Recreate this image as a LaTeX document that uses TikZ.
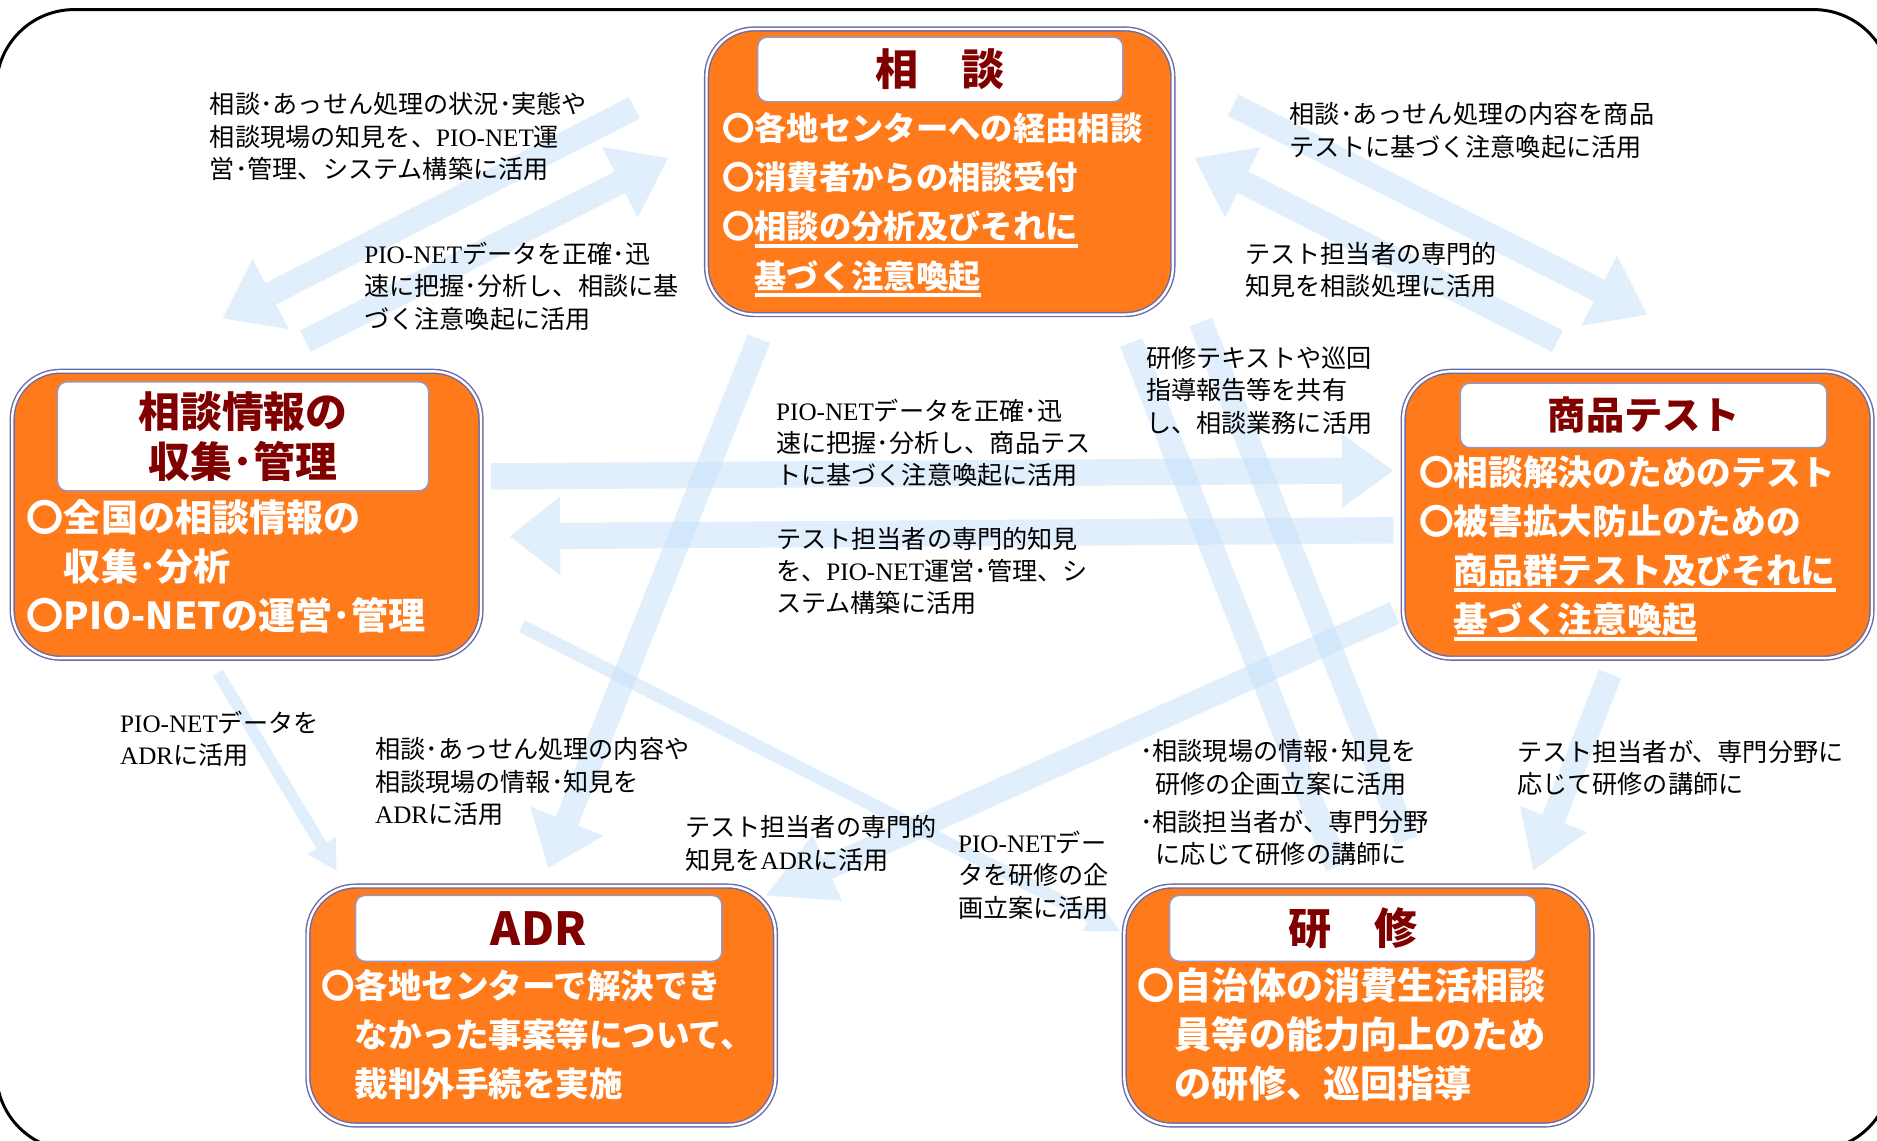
\documentclass[tikz,border=0pt]{standalone}
\usepackage{fontspec}
\setmainfont{Noto Sans CJK JP}
\newfontfamily\lat{Liberation Serif}
\usetikzlibrary{calc}
\definecolor{boxorange}{RGB}{255,122,26}
\definecolor{slate}{RGB}{108,108,165}
\definecolor{titlered}{RGB}{128,0,0}
\definecolor{arrowblue}{RGB}{200,225,250}
\newsavebox\ulbox
\newcommand\ul[1]{\sbox\ulbox{#1}\rlap{\rule[-3.6pt]{\wd\ulbox}{1.5pt}}\usebox\ulbox}
\newcommand\pn{{\lat PIO-NET}}
\newcommand\adr{{\lat ADR}}
% block arrow: tail, tip, shaft half width, head length, head half width
\newcommand\blockarrow[5]{%
  \coordinate (bb) at ($(#2)!#4!(#1)$);
  \fill[arrowfill] ($(#1)!#3!90:(#2)$) -- ($(bb)!#3!90:(#2)$) -- ($(bb)!#5!90:(#2)$) -- (#2)
    -- ($(bb)!#5!-90:(#2)$) -- ($(bb)!#3!-90:(#2)$) -- ($(#1)!#3!-90:(#2)$) -- cycle;}
\newcommand\band[3]{%
  \fill[arrowfill] ($(#1)!#3!90:(#2)$) -- ($(#2)!#3!-90:(#1)$) -- ($(#2)!#3!90:(#1)$) -- ($(#1)!#3!-90:(#2)$) -- cycle;}
\begin{document}
\begin{tikzpicture}[x=0.5pt,y=-0.5pt,
  arrowfill/.style={fill=arrowblue, fill opacity=0.55},
  outerbox/.style={draw=slate, line width=0.6pt, double=white, double distance=1pt,
    fill=boxorange, rounded corners=20pt, inner sep=0pt},
  titlebox/.style={draw=slate!70, fill=white, rounded corners=4pt, line width=0.6pt,
    inner sep=0pt, text=titlered, align=center, font=\bfseries\fontsize{#1}{21pt}\selectfont},
  item/.style={anchor=west, align=left, inner sep=0pt, text=white,
    font=\bfseries\fontsize{#1}{20.5pt}\selectfont},
  lbl/.style={anchor=west, align=left, inner sep=0pt, font=\fontsize{10.5pt}{13.5pt}\selectfont}]
\useasboundingbox (0,0) rectangle (1568,953);
% outer frame
\draw[line width=1.25pt, rounded corners=32.5pt] (-3,8) rectangle (1580,961);
% arrow end points
\coordinate (a1t) at (530,90);   \coordinate (a1h) at (186,266);
\coordinate (a2t) at (255,285);  \coordinate (a2h) at (558,132);
\coordinate (a3t) at (1030,88);  \coordinate (a3h) at (1376,263);
\coordinate (a4t) at (1301,285); \coordinate (a4h) at (998,132);
\coordinate (a5t) at (410,398);  \coordinate (a5h) at (1164,393);
\coordinate (a6t) at (1164,443); \coordinate (a6h) at (426,448);
\coordinate (a7t) at (634,283);  \coordinate (a7h) at (458,725);
\coordinate (a8t) at (182,562);  \coordinate (a8h) at (281,727);
\coordinate (a9t) at (436,523);  \coordinate (a9h) at (936,778);
\coordinate (a10t) at (1165,512); \coordinate (a10h) at (640,748);
\coordinate (b1s) at (945,286);  \coordinate (b1e) at (1117,724);
\coordinate (b2s) at (1003,269); \coordinate (b2e) at (1175,702);
\coordinate (a13t) at (1345,563); \coordinate (a13h) at (1281,727);
% arrows
\blockarrow{a1t}{a1h}{5pt}{22.5pt}{16.5pt}
\blockarrow{a2t}{a2h}{5pt}{22.5pt}{16.5pt}
\blockarrow{a3t}{a3h}{5pt}{22.5pt}{16.5pt}
\blockarrow{a4t}{a4h}{5pt}{22.5pt}{16.5pt}
\blockarrow{a5t}{a5h}{5.5pt}{21.5pt}{15.5pt}
\blockarrow{a6t}{a6h}{5.5pt}{21pt}{16.5pt}
\blockarrow{a7t}{a7h}{5pt}{21pt}{16.5pt}
\blockarrow{a8t}{a8h}{2.5pt}{12pt}{7pt}
\blockarrow{a9t}{a9h}{2.75pt}{14pt}{7pt}
\blockarrow{a10t}{a10h}{5pt}{28pt}{15pt}
\band{b1s}{b1e}{5pt}
\band{b2s}{b2e}{5pt}
\blockarrow{a13t}{a13h}{5pt}{23pt}{15pt}
% boxes
\node[outerbox, minimum width=194.8pt, minimum height=119.3pt] (sou) at (785,143.5) {};
\node[outerbox, minimum width=195.8pt, minimum height=119.8pt] (info) at (206,430) {};
\node[outerbox, minimum width=195.8pt, minimum height=119.8pt] (test) at (1368,430) {};
\node[outerbox, minimum width=195.3pt, minimum height=99.8pt] (adr) at (452.5,840) {};
\node[outerbox, minimum width=195.3pt, minimum height=99.8pt] (ken) at (1134.5,840) {};
% title boxes
\node[titlebox=18pt, minimum width=152.5pt, minimum height=27pt] (sout) at (785.5,58) {相　談};
\node[titlebox=17.5pt, minimum width=155pt, minimum height=45.5pt] (infot) at (203,364.5) {相談情報の\\収集･管理};
\node[titlebox=16pt, minimum width=153pt, minimum height=27pt] (testt) at (1373,347) {商品テスト};
\node[titlebox=19pt, minimum width=153pt, minimum height=27.5pt] (adrt) at (450,775.5) {ADR};
\node[titlebox=18pt, minimum width=153pt, minimum height=27.5pt] (kent) at (1130,775.5) {研　修};
% box items
\node[item=13.5pt] (soui) at (603,171) {〇各地センターへの経由相談\\〇消費者からの相談受付\\〇\ul{相談の分析及びそれに}\\\hspace*{1em}\ul{基づく注意喚起}};
\node[item=15.5pt] (infoi) at (22,473) {〇全国の相談情報の\\\hspace*{1em}収集･分析\\〇PIO-NETの運営･管理};
\node[item=14.5pt] (testi) at (1185,458) {〇相談解決のためのテスト\\〇被害拡大防止のための\\\hspace*{1em}\ul{商品群テスト及びそれに}\\\hspace*{1em}\ul{基づく注意喚起}};
\node[item=14pt] (adri) at (268,864) {〇各地センターで解決でき\\\hspace*{1em}なかった事案等について、\\\hspace*{1em}裁判外手続を実施};
\node[item=15.5pt] (keni) at (950,864) {〇自治体の消費生活相談\\\hspace*{1em}員等の能力向上のため\\\hspace*{1em}の研修、巡回指導};
% labels
\node[lbl] (l1) at (175,114) {相談･あっせん処理の状況･実態や\\相談現場の知見を、\pn{}運\\営･管理、システム構築に活用};
\node[lbl] (l2) at (304,239) {\pn{}データを正確･迅\\速に把握･分析し、相談に基\\づく注意喚起に活用};
\node[lbl] (l3) at (1077,109) {相談･あっせん処理の内容を商品\\テストに基づく注意喚起に活用};
\node[lbl] (l4) at (1040,225.5) {テスト担当者の専門的\\知見を相談処理に活用};
\node[lbl] (l5) at (957,326) {研修テキストや巡回\\指導報告等を共有\\し、相談業務に活用};
\node[lbl] (l6) at (648,370) {\pn{}データを正確･迅\\速に把握･分析し、商品テス\\トに基づく注意喚起に活用};
\node[lbl] (l7) at (648,477) {テスト担当者の専門的知見\\を、\pn{}運営･管理、シ\\ステム構築に活用};
\node[lbl] (l8) at (100,617) {\pn{}データを\\\adr{}に活用};
\node[lbl] (l9) at (313,653) {相談･あっせん処理の内容や\\相談現場の情報･知見を\\\adr{}に活用};
\node[lbl] (l10) at (572,704.5) {テスト担当者の専門的\\知見を\adr{}に活用};
\node[lbl] (l11) at (800,731) {\pn{}デー\\タを研修の企\\画立案に活用};
\node[lbl] (l12) at (952,670.5) {･相談現場の情報･知見を\\\hspace*{0.6em}研修の企画立案に活用\\[2.5pt]･相談担当者が、専門分野\\\hspace*{0.6em}に応じて研修の講師に};
\node[lbl] (l13) at (1267,641.5) {テスト担当者が、専門分野に\\応じて研修の講師に};
\end{tikzpicture}
\end{document}
